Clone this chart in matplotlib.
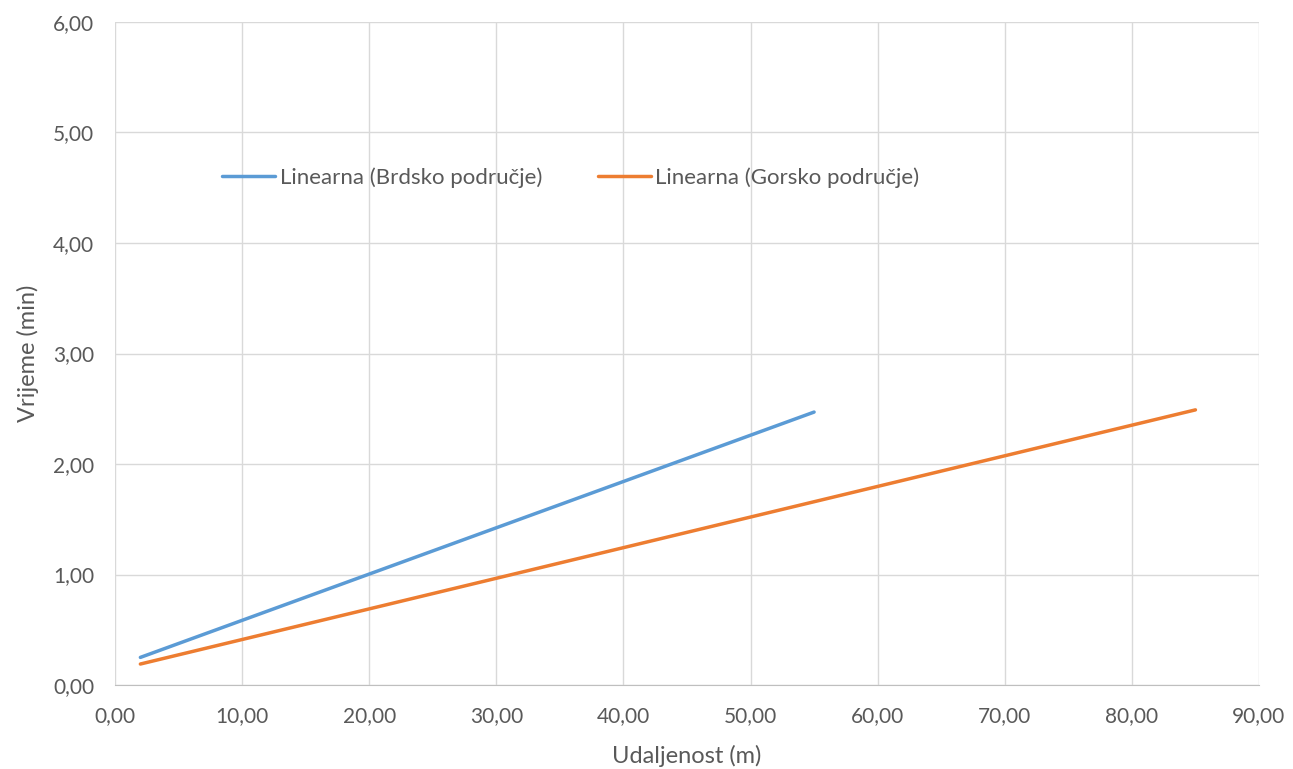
import matplotlib
matplotlib.use("Agg")
import matplotlib.pyplot as plt
from matplotlib.ticker import FuncFormatter, MultipleLocator

plt.rcParams['font.family'] = ['Lato', 'DejaVu Sans']

# trend lines (start/end points)
brdsko_x = [2, 55]
brdsko_y = [0.25, 2.47]
gorsko_x = [2, 85]
gorsko_y = [0.19, 2.49]

labels = ['Linearna (Brdsko područje)', 'Linearna (Gorsko područje)']

fig = plt.figure(figsize=(12.93, 7.69), dpi=100)
ax = fig.add_axes([0.0889, 0.1092, 0.8848, 0.8622])

ax.plot(brdsko_x, brdsko_y, color='#5B9BD5', lw=2.5, solid_capstyle='round', label=labels[0])
ax.plot(gorsko_x, gorsko_y, color='#ED7D31', lw=2.5, solid_capstyle='round', label=labels[1])

ax.set_xlim(0, 90)
ax.set_ylim(0, 6)
ax.xaxis.set_major_locator(MultipleLocator(10))
ax.yaxis.set_major_locator(MultipleLocator(1))
fmt = FuncFormatter(lambda v, p: f'{v:.2f}'.replace('.', ','))
ax.xaxis.set_major_formatter(fmt)
ax.yaxis.set_major_formatter(fmt)

ax.grid(True, color='#D9D9D9', lw=1)
ax.set_axisbelow(True)
for s in ['top', 'right', 'left']:
    ax.spines[s].set_visible(False)
ax.spines['bottom'].set_color('#BFBFBF')
ax.tick_params(length=0, labelsize=15, colors='#595959')
ax.tick_params(axis='x', pad=15)
ax.tick_params(axis='y', pad=15)

ax.set_xlabel('Udaljenost (m)', fontsize=17, color='#595959', labelpad=14)
ax.set_ylabel('Vrijeme (min)', fontsize=17, color='#595959', labelpad=10)

leg = ax.legend(loc='center left', bbox_to_anchor=(0.076, 0.765), ncol=2, frameon=False,
                fontsize=16, handlelength=2.4, handletextpad=0.2, columnspacing=2.5)
for t in leg.get_texts():
    t.set_color('#595959')

fig.savefig('out.png', dpi=100)
